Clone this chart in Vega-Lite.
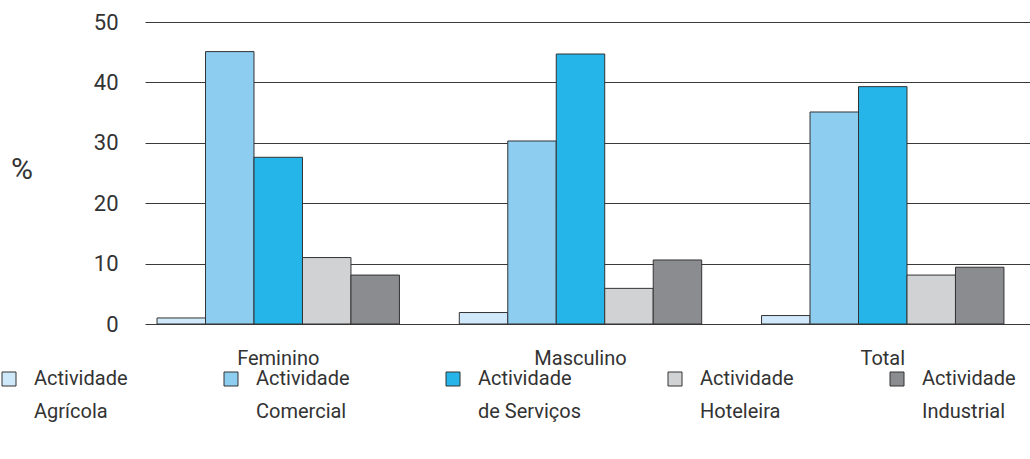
{
  "$schema": "https://vega.github.io/schema/vega-lite/v6.json",
  "width": 885,
  "height": 302,
  "autosize": {"type": "none"},
  "padding": {"left": 145, "top": 22, "right": 0, "bottom": 135},
  "background": "white",
  "data": {
    "values": [
      {"sexo": "Feminino", "actividade": "Actividade Agrícola", "valor": 1.0},
      {"sexo": "Feminino", "actividade": "Actividade Comercial", "valor": 45.1},
      {"sexo": "Feminino", "actividade": "Actividade de Serviços", "valor": 27.6},
      {"sexo": "Feminino", "actividade": "Actividade Hoteleira", "valor": 11.0},
      {"sexo": "Feminino", "actividade": "Actividade Industrial", "valor": 8.1},
      {"sexo": "Masculino", "actividade": "Actividade Agrícola", "valor": 1.9},
      {"sexo": "Masculino", "actividade": "Actividade Comercial", "valor": 30.3},
      {"sexo": "Masculino", "actividade": "Actividade de Serviços", "valor": 44.7},
      {"sexo": "Masculino", "actividade": "Actividade Hoteleira", "valor": 5.9},
      {"sexo": "Masculino", "actividade": "Actividade Industrial", "valor": 10.6},
      {"sexo": "Total", "actividade": "Actividade Agrícola", "valor": 1.4},
      {"sexo": "Total", "actividade": "Actividade Comercial", "valor": 35.1},
      {"sexo": "Total", "actividade": "Actividade de Serviços", "valor": 39.3},
      {"sexo": "Total", "actividade": "Actividade Hoteleira", "valor": 8.1},
      {"sexo": "Total", "actividade": "Actividade Industrial", "valor": 9.4}
    ]
  },
  "mark": {"type": "bar", "stroke": "#333333", "strokeWidth": 1},
  "encoding": {
    "x": {
      "field": "sexo",
      "type": "nominal",
      "sort": ["Feminino", "Masculino", "Total"],
      "scale": {"paddingInner": 0.198, "paddingOuter": 0.063, "align": 0.316},
      "axis": {
        "title": null,
        "labelAngle": 0,
        "domain": false,
        "ticks": false,
        "labelPadding": 24,
        "labelFont": "Roboto",
        "labelFontSize": 20,
        "labelColor": "#333333"
      }
    },
    "xOffset": {
      "field": "actividade",
      "type": "nominal",
      "sort": ["Actividade Agrícola", "Actividade Comercial", "Actividade de Serviços", "Actividade Hoteleira", "Actividade Industrial"],
      "scale": {"paddingInner": 0, "paddingOuter": 0}
    },
    "y": {
      "field": "valor",
      "type": "quantitative",
      "scale": {"domain": [0, 50], "nice": false},
      "axis": {
        "values": [0, 10, 20, 30, 40, 50],
        "title": "%",
        "titleAngle": 0,
        "titleX": -123.5,
        "titleY": 147,
        "titleAlign": "center",
        "titleBaseline": "middle",
        "titleFont": "Roboto",
        "titleFontSize": 30,
        "titleFontWeight": "normal",
        "titleColor": "#333333",
        "domain": false,
        "ticks": false,
        "labelPadding": 27,
        "labelFont": "Roboto",
        "labelFontSize": 22,
        "labelColor": "#333333",
        "grid": true,
        "gridColor": "#3a3a3a",
        "gridWidth": 1,
        "gridOpacity": 1
      }
    },
    "color": {
      "field": "actividade",
      "type": "nominal",
      "scale": {
        "domain": ["Actividade Agrícola", "Actividade Comercial", "Actividade de Serviços", "Actividade Hoteleira", "Actividade Industrial"],
        "range": ["#cfe9fa", "#8dcdf0", "#25b5e8", "#d1d2d4", "#8b8c8f"]
      },
      "legend": {
        "title": null,
        "orient": "none",
        "legendX": -146,
        "legendY": 347,
        "direction": "horizontal",
        "columns": 5,
        "gridAlign": "all",
        "columnPadding": 83,
        "symbolType": "square",
        "symbolSize": 196,
        "symbolStrokeColor": "#333333",
        "symbolStrokeWidth": 1,
        "symbolOpacity": 1,
        "labelFont": "Roboto",
        "labelFontSize": 20,
        "labelColor": "#333333",
        "labelOffset": 15,
        "labelLimit": 0,
        "labelBaseline": "middle",
        "labelExpr": "['Actividade', slice(datum.label, 11)]",
        "encode": {"labels": {"update": {"lineHeight": {"value": 33}}}}
      }
    }
  },
  "config": {"view": {"stroke": null}}
}
